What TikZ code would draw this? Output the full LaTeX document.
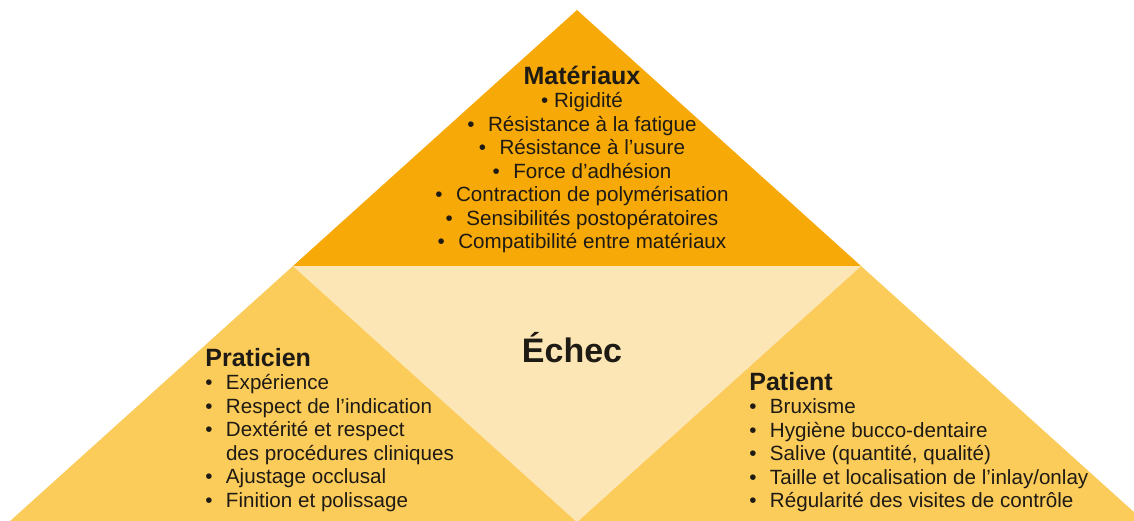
\documentclass[tikz,border=0pt]{standalone}
\usepackage{fontspec}
\setmainfont{Liberation Sans}
\definecolor{topc}{RGB}{247,169,8}
\definecolor{sidec}{RGB}{252,204,90}
\definecolor{midc}{RGB}{253,230,182}
\definecolor{txtc}{RGB}{30,26,20}
\newcommand{\hd}[1]{{\fontsize{12.5}{15}\selectfont\bfseries #1}}
\newcommand{\itm}{\makebox[10.3pt][l]{\textbullet}}
\tikzset{
  listtext/.style={inner sep=0pt, text=txtc, font=\fontsize{10.3}{11.75}\selectfont},
  bigtext/.style={inner sep=0pt, text=txtc, font=\fontsize{17}{20}\selectfont\bfseries}
}
\begin{document}
\begin{tikzpicture}[x=0.5pt,y=-0.5pt]
\useasboundingbox (0,0) rectangle (1134,520);
\clip (0,0) rectangle (1134,520);
\coordinate (A) at (577,10);
\coordinate (L) at (9,522);
\coordinate (R) at (1145,522);
\coordinate (ML) at (293,266);
\coordinate (MR) at (861,266);
\coordinate (MB) at (577,522);
\fill[white] (0,0) rectangle (1134,520);
\fill[topc] (A) -- (ML) -- (MR) -- cycle;
\fill[sidec] (L) -- (ML) -- (MB) -- cycle;
\fill[sidec] (MB) -- (MR) -- (R) -- cycle;
\fill[midc] (ML) -- (MR) -- (MB) -- cycle;
\node[listtext, anchor=base] (mat) at (582,84) {\begin{tabular}[t]{@{}c@{}}
\hd{Matériaux}\\
\textbullet{} Rigidité\\
\itm Résistance à la fatigue\\
\itm Résistance à l'usure\\
\itm Force d'adhésion\\
\itm Contraction de polymérisation\\
\itm Sensibilités postopératoires\\
\itm Compatibilité entre matériaux
\end{tabular}};
\node[listtext, anchor=base west] (prat) at (205,366) {\begin{tabular}[t]{@{}l@{}}
\hd{Praticien}\\
\itm Expérience\\
\itm Respect de l'indication\\
\itm Dextérité et respect\\
\hspace{10.3pt}des procédures cliniques\\
\itm Ajustage occlusal\\
\itm Finition et polissage
\end{tabular}};
\node[listtext, anchor=base west] (pat) at (749,390) {\begin{tabular}[t]{@{}l@{}}
\hd{Patient}\\
\itm Bruxisme\\
\itm Hygiène bucco-dentaire\\
\itm Salive (quantité, qualité)\\
\itm Taille et localisation de l'inlay/onlay\\
\itm Régularité des visites de contrôle
\end{tabular}};
\node[bigtext, anchor=base] (echec) at (572,362) {Échec};
\end{tikzpicture}
\end{document}
